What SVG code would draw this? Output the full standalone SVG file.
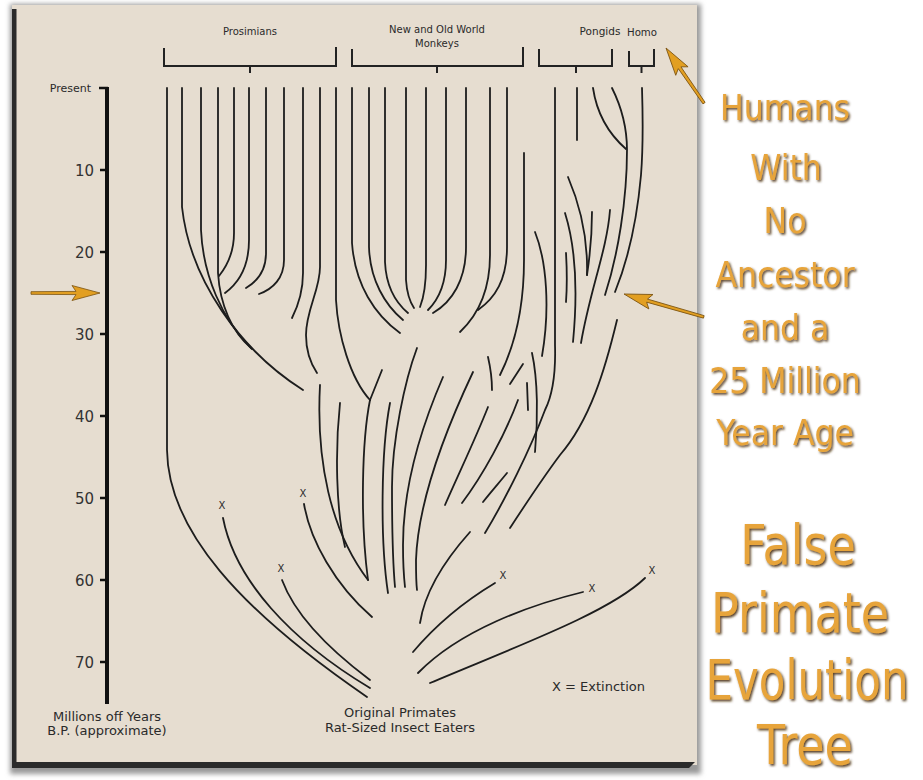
<svg xmlns="http://www.w3.org/2000/svg" width="923" height="780" viewBox="0 0 923 780">
<defs>
<style>
.ln{fill:none;stroke:#1d1d1d;stroke-width:1.8;stroke-linecap:round;stroke-linejoin:round}
.br{fill:none;stroke:#222;stroke-width:2}
.tk{stroke:#111;stroke-width:2.5}
.lbl{font-family:"DejaVu Sans",Verdana,sans-serif;fill:#2a2a2a}
.num{font-family:"DejaVu Sans",Verdana,sans-serif;font-size:15px;fill:#333;text-anchor:end}
.xm{font-family:"DejaVu Sans",Verdana,sans-serif;font-size:10px;fill:#2a2a2a;text-anchor:middle}
.big{font-family:"DejaVu Sans",Verdana,sans-serif;fill:#e7a43a;text-anchor:middle;filter:url(#sh)}
.arr{fill:#e29f22;stroke:#7a5210;stroke-width:0.8}
</style>
<filter id="sh" x="-10%" y="-20%" width="130%" height="150%">
<feDropShadow dx="1.5" dy="1.5" stdDeviation="0.8" flood-color="#4a2e08" flood-opacity="0.9"/>
</filter>
<filter id="blur" x="-5%" y="-5%" width="110%" height="110%">
<feGaussianBlur stdDeviation="2.5"/>
</filter>
</defs>
<rect width="923" height="780" fill="#ffffff"/>

<g id="panel">
<rect x="10" y="4" width="691" height="770" fill="#9a9a9a" filter="url(#blur)"/>
<rect x="12" y="5" width="685" height="760" fill="#e6ddd0"/>
<rect x="12" y="9" width="4.5" height="758" fill="#2b2b2b"/>
<polygon points="12,762 695,762 689,768 12,768" fill="#2b2b2b"/>
</g>

<g id="axis">
<line x1="107" y1="87" x2="107" y2="704" stroke="#111" stroke-width="4"/>
<line class="tk" x1="99" y1="88" x2="108" y2="88"/>
<line class="tk" x1="100" y1="170" x2="107" y2="170"/>
<line class="tk" x1="100" y1="252" x2="107" y2="252"/>
<line class="tk" x1="100" y1="334" x2="107" y2="334"/>
<line class="tk" x1="100" y1="416" x2="107" y2="416"/>
<line class="tk" x1="100" y1="498" x2="107" y2="498"/>
<line class="tk" x1="100" y1="580" x2="107" y2="580"/>
<line class="tk" x1="100" y1="662" x2="107" y2="662"/>
<text class="lbl" x="91" y="92" font-size="11" text-anchor="end">Present</text>
<text class="num" x="94" y="175.5">10</text>
<text class="num" x="94" y="257.5">20</text>
<text class="num" x="94" y="339.5">30</text>
<text class="num" x="94" y="421.5">40</text>
<text class="num" x="94" y="503.5">50</text>
<text class="num" x="94" y="585.5">60</text>
<text class="num" x="94" y="667.5">70</text>
<text class="lbl" x="107" y="721" font-size="13" text-anchor="middle">Millions off Years</text>
<text class="lbl" x="107" y="735" font-size="13" text-anchor="middle">B.P. (approximate)</text>
</g>

<g id="groups">
<g id="prosimians">
<path class="br" d="M164,48 V66 H336 V47 M250,66 V73"/>
<text class="lbl" x="250" y="35" font-size="10" text-anchor="middle">Prosimians</text>
</g>
<g id="monkeys">
<path class="br" d="M352,49 V66 H523 V47 M437,66 V73"/>
<text class="lbl" x="437" y="33" font-size="10" text-anchor="middle">New and Old World</text>
<text class="lbl" x="437" y="47" font-size="10" text-anchor="middle">Monkeys</text>
</g>
<g id="pongids">
<path class="br" d="M539,49 V66 H612 V49 M576,66 V73"/>
<text class="lbl" x="600" y="35" font-size="10.5" text-anchor="middle">Pongids</text>
</g>
<g id="homo">
<path class="br" d="M629,51 V66 H654 V49 M641.5,66 V73"/>
<text class="lbl" x="642" y="36" font-size="10.2" text-anchor="middle">Homo</text>
</g>
</g>

<g id="connectors">
<path class="ln" d="M167,88 V450 C168,530 240,610 367,697"/>
<path class="ln" d="M182,88 V207 C190,280 240,350 303,390"/>
<path class="ln" d="M201,88 V230 C203,275 222,320 252,349"/>
<path class="ln" d="M218,88 V273 C220,305 232,332 251,348"/>
<path class="ln" d="M234,88 V233 C234,252 227,266 219,276"/>
<path class="ln" d="M249,88 V240 C249,264 240,282 225,293"/>
<path class="ln" d="M266,88 V253 C266,270 258,281 246,288"/>
<path class="ln" d="M284,88 V260 C284,278 273,289 259,294"/>
<path class="ln" d="M303,88 V273 C303,292 298,306 292,318"/>
<path class="ln" d="M320,88 V267 C320,290 306,310 306,335 C306,352 311,364 317,373"/>
<path class="ln" d="M336,88 V300 C338,335 350,378 370,400"/>

<path class="ln" d="M352,88 V243 C355,285 375,315 400,333"/>
<path class="ln" d="M369,88 V247 C370,280 385,305 403,320"/>
<path class="ln" d="M385,88 V262 C386,285 395,302 408,313"/>
<path class="ln" d="M406,88 V280 C407,295 410,302 414,308"/>
<path class="ln" d="M426,88 V265 C426,285 424,297 420,307"/>
<path class="ln" d="M446,88 V260 C446,285 438,300 428,310"/>
<path class="ln" d="M466,88 V247 C466,280 452,302 433,313"/>
<path class="ln" d="M490,88 V255 C490,290 478,315 460,332"/>
<path class="ln" d="M507,88 V247 C507,280 495,298 478,310"/>

<path class="ln" d="M524,153 V260 C524,310 515,345 500,375"/>
<path class="ln" d="M535,232 C547,262 550,310 542,356"/>
<path class="ln" d="M555,88 V345 C556,378 551,398 545,410 C530,450 505,500 485,533"/>
<path class="ln" d="M577,88 V140"/>
<path class="ln" d="M593,88 C597,115 610,135 626,149"/>
<path class="ln" d="M612,88 C622,108 627,128 627,150 C627,200 618,255 605,295"/>
<path class="ln" d="M642,88 C643,120 643,150 641,175 C637,220 628,260 615,292"/>
<path class="ln" d="M568,177 C580,205 588,240 587,275"/>
<path class="ln" d="M592,212 C592,235 590,255 587,275"/>
<path class="ln" d="M610,210 C607,250 590,290 581,343"/>
<path class="ln" d="M565,213 C575,245 578,290 573,342"/>
<path class="ln" d="M566,253 C567,270 567,288 566,302"/>
<path class="ln" d="M617,320 C605,370 590,420 560,455 C545,475 525,505 510,528"/>

<path class="ln" d="M320,385 C316,460 330,530 368,580"/>
<path class="ln" d="M340,403 C335,450 336,510 345,547"/>
<path class="ln" d="M382,370 L370,400"/>
<path class="ln" d="M370,400 C362,440 360,520 368,580"/>
<path class="ln" d="M390,403 C381,450 380,540 388,593"/>
<path class="ln" d="M417,348 C405,380 392,440 392,487 C392,530 393,565 395,587"/>
<path class="ln" d="M443,377 C420,430 403,490 403,545 C403,565 404,578 405,587"/>
<path class="ln" d="M473,372 C448,425 418,500 416,560 C416,572 416,582 417,590"/>
<path class="ln" d="M488,357 C491,370 492,380 492,390"/>
<path class="ln" d="M523,364 L510,384"/>
<path class="ln" d="M527,383 L528,410"/>
<path class="ln" d="M532,353 C538,380 538,420 535,452"/>
<path class="ln" d="M488,407 C475,440 458,475 445,505"/>
<path class="ln" d="M518,400 C505,435 483,475 462,503"/>
<path class="ln" d="M507,473 C498,484 490,493 483,502"/>
<path class="ln" d="M470,532 C445,560 425,590 420,623"/>

<path class="ln" d="M223,518 C235,580 290,640 370,688"/>
<path class="ln" d="M282,580 C295,615 330,650 370,680"/>
<path class="ln" d="M304,504 C310,540 335,585 372,617"/>
<path class="ln" d="M495,583 C470,598 440,620 413,652"/>
<path class="ln" d="M583,592 C530,605 460,630 418,673"/>
<path class="ln" d="M645,578 C610,612 520,645 430,683"/>
</g>

<g id="extinctions">
<text class="xm" x="222" y="509">X</text>
<text class="xm" x="281" y="572">X</text>
<text class="xm" x="303" y="497">X</text>
<text class="xm" x="503" y="579">X</text>
<text class="xm" x="592" y="592">X</text>
<text class="xm" x="652" y="574">X</text>
<text class="lbl" x="552" y="691" font-size="13">X = Extinction</text>
</g>

<g id="origin">
<text class="lbl" x="400" y="717" font-size="13" text-anchor="middle">Original Primates</text>
<text class="lbl" x="400" y="732" font-size="13" text-anchor="middle">Rat-Sized Insect Eaters</text>
</g>

<g id="arrows">
<path class="arr" transform="translate(100,293)" d="M0,0 L-28,-7.5 L-24,-1.6 L-69,-1.3 L-69,1.3 L-24,1.6 L-28,7.5 Z"/>
<path class="arr" transform="translate(666,48) rotate(235.4)" d="M0,0 L-28,-7.5 L-24,-1.6 L-67,-1.3 L-67,1.3 L-24,1.6 L-28,7.5 Z"/>
<path class="arr" transform="translate(624,294) rotate(196)" d="M0,0 L-28,-7.5 L-24,-1.6 L-83,-1.3 L-83,1.3 L-24,1.6 L-28,7.5 Z"/>
</g>

<g id="caption-humans">
<text class="big" font-size="31.5" transform="translate(785,120) scale(1,1.1)">Humans</text>
<text class="big" font-size="31.5" transform="translate(786,180) scale(1,1.1)">With</text>
<text class="big" font-size="31.5" transform="translate(785,233) scale(1,1.1)">No</text>
<text class="big" font-size="31.5" transform="translate(785,287) scale(1,1.1)">Ancestor</text>
<text class="big" font-size="31.5" transform="translate(785,340) scale(1,1.1)">and a</text>
<text class="big" font-size="31.5" transform="translate(785,393) scale(1,1.1)">25 Million</text>
<text class="big" font-size="31.5" transform="translate(785,445) scale(1,1.1)">Year Age</text>
</g>

<g id="caption-title">
<text class="big" font-size="46" transform="translate(798,564) scale(1,1.2)">False</text>
<text class="big" font-size="46" transform="translate(800,632) scale(1,1.2)">Primate</text>
<text class="big" font-size="46" textLength="203" lengthAdjust="spacingAndGlyphs" transform="translate(807,699) scale(1,1.2)">Evolution</text>
<text class="big" font-size="46" transform="translate(805,764) scale(1,1.2)">Tree</text>
</g>
</svg>
